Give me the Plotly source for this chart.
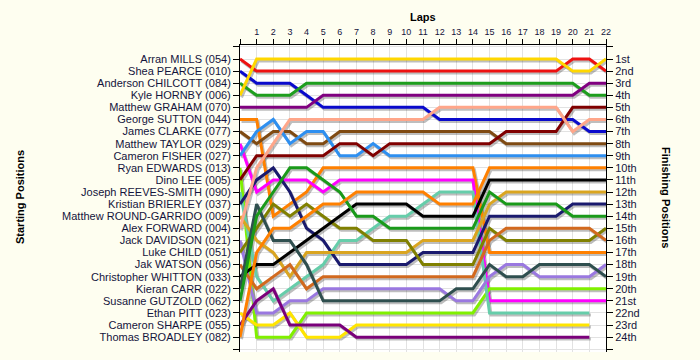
import plotly.graph_objects as go

laps = list(range(0, 23))
lap_labels = [""] + [str(i) for i in range(1, 23)]

names = [
    "Arran MILLS (054)", "Shea PEARCE (010)", "Anderson CHILCOTT (084)", "Kyle HORNBY (006)",
    "Matthew GRAHAM (070)", "George SUTTON (044)", "James CLARKE (077)", "Matthew TAYLOR (029)",
    "Cameron FISHER (027)", "Ryan EDWARDS (013)", "Dino LEE (005)", "Joseph REEVES-SMITH (090)",
    "Kristian BRIERLEY (037)", "Matthew ROUND-GARRIDO (009)", "Alex FORWARD (004)",
    "Jack DAVIDSON (021)", "Luke CHILD (051)", "Jak WATSON (056)", "Christopher WHITTON (033)",
    "Kieran CARR (022)", "Susanne GUTZOLD (062)", "Ethan PITT (023)", "Cameron SHARPE (055)",
    "Thomas BROADLEY (082)",
]

ordinals = ["1st", "2nd", "3rd", "4th", "5th", "6th", "7th", "8th", "9th", "10th", "11th", "12th",
            "13th", "14th", "15th", "16th", "17th", "18th", "19th", "20th", "21st", "22nd", "23rd", "24th"]

# position of each driver on laps 0..22 (None = lapped, did not complete the lap)
p_mills     = [1, 2,2,2,2,2, 2,2,2,2,2, 2,2,2,2,2, 2,2,2,2,1, 1,2]
p_pearce    = [2, 3,3,3,4,5, 5,5,5,5,5, 5,6,6,6,6, 6,6,6,6,6, 7,7]
p_chilcott  = [3, 4,4,4,3,3, 3,3,3,3,3, 3,3,3,3,3, 3,3,3,3,3, 4,4]
p_hornby    = [4, 1,1,1,1,1, 1,1,1,1,1, 1,1,1,1,1, 1,1,1,1,2, 2,1]
p_graham    = [5, 5,5,5,5,4, 4,4,4,4,4, 4,4,4,4,4, 4,4,4,4,4, 3,3]
p_sutton    = [6, 6,14,13,12,10, 10,10,10,10,10, 10,10,10,10,17, 17,17,17,17,17, 17,17]
p_clarke    = [7, 8,7,7,8,8, 7,7,7,7,7, 7,7,7,7,7, 8,8,8,8,8, 8,8]
p_taylor    = [8, 12,11,11,11,12, 11,11,11,11,11, 11,11,11,11,21, 21,21,21,21,21, 21,21]
p_fisher    = [9, 7,6,8,7,7, 9,9,8,9,9, 9,9,9,9,9, 9,9,9,9,9, 9,9]
p_edwards   = [10, 24,24,24,22,22, 22,22,22,22,22, 22,22,22,22,20, 20,20,20,20,20, 20,20]
p_lee       = [11, 9,9,9,9,9, 8,8,9,8,8, 8,8,8,8,8, 7,7,7,7,5, 5,5]
p_reeves    = [12, 19,21,20,19,18, 16,16,15,14,14, 13,12,12,12,22, 22,22,22,22,22, 22,None]
p_brierley  = [13, 11,10,12,15,16, 18,18,18,18,18, 17,17,17,17,14, 14,14,14,14,13, 13,13]
p_round     = [14, 16,17,19,17,17, 17,17,17,17,17, 16,16,16,16,13, 12,12,12,12,12, 12,12]
p_forward   = [15, 10,8,6,6,6, 6,6,6,6,6, 6,5,5,5,5, 5,5,5,5,7, 6,6]
p_davidson  = [16, 22,22,21,21,20, 20,20,20,20,20, 20,20,21,21,19, 18,18,19,19,19, 19,18]
p_child     = [17, 15,13,14,13,14, 15,15,16,16,16, 18,18,18,18,15, 16,16,16,16,16, 16,15]
p_watson    = [18, 20,19,18,20,19, 19,19,19,19,19, 19,19,19,19,16, 15,15,15,15,15, 15,16]
p_whitton   = [19, 18,18,17,16,15, 14,13,13,13,13, 14,14,14,14,11, 11,11,11,11,11, 11,11]
p_carr      = [20, 13,16,16,18,21, 21,21,21,21,21, 21,21,20,20,18, 19,19,18,18,18, 18,19]
p_gutzold   = [21, 14,12,10,10,11, 12,14,14,15,15, 15,15,15,15,12, 13,13,13,13,14, 14,14]
p_pitt      = [22, 23,23,22,24,24, 24,23,23,23,23, 23,23,23,23,23, 23,23,23,23,23, 23,None]
p_sharpe    = [23, 21,20,23,23,23, 23,24,24,24,24, 24,24,24,24,24, 24,24,24,24,24, 24,None]
p_broadley  = [24, 17,15,15,14,13, 13,12,12,12,12, 12,13,13,13,10, 10,10,10,10,10, 10,10]

positions = [p_mills, p_pearce, p_chilcott, p_hornby, p_graham, p_sutton, p_clarke, p_taylor,
             p_fisher, p_edwards, p_lee, p_reeves, p_brierley, p_round, p_forward, p_davidson,
             p_child, p_watson, p_whitton, p_carr, p_gutzold, p_pitt, p_sharpe, p_broadley]

colors = ["#EE1111", "#0A0ACC", "#1E9E1E", "#FFD700", "#800080", "#FF8000", "#7F4A12", "#FF00FF",
          "#2E8FF0", "#80F000", "#800000", "#66CDAA", "#1A1A6E", "#DAA520", "#FFA68A", "#9A78E0",
          "#808000", "#D2691E", "#000000", "#2F4F4F", "#1A9A1A", "#FFE500", "#7A007A", "#FF8000"]

for p in positions:
    assert len(p) == 23

fig = go.Figure()

# drop shadows (same data, drawn on a slightly shifted hidden axis pair)
for p in positions:
    fig.add_trace(go.Scatter(x=laps, y=p, xaxis="x", yaxis="y", mode="lines",
                             line=dict(color="rgba(70,70,70,0.35)", width=3),
                             hoverinfo="skip", showlegend=False))

for nm, p, c in zip(names, positions, colors):
    fig.add_trace(go.Scatter(x=laps, y=p, xaxis="x2", yaxis="y2", mode="lines", name=nm,
                             line=dict(color=c, width=3), hoverinfo="skip", showlegend=False))

# anchor trace for the right-hand axis
fig.add_trace(go.Scatter(x=[laps[-1]], y=[1], xaxis="x2", yaxis="y3", mode="markers",
                         marker=dict(opacity=0), hoverinfo="skip", showlegend=False))

tick_font = dict(family="Liberation Sans, Arial, sans-serif", size=11, color="#14143C")
grid_c = "#E2E2E2"
yr = [25.23, -0.158]

fig.update_layout(
    width=700, height=360,
    margin=dict(l=240, r=94, t=45, b=8),
    paper_bgcolor="#FEFEF0",
    plot_bgcolor="#FFFFFF",
    showlegend=False,
    hovermode=False,
    xaxis=dict(range=[-0.09, 21.91], visible=False, fixedrange=True),
    yaxis=dict(range=[yr[0] - 0.165, yr[1] - 0.165], visible=False, fixedrange=True),
    xaxis2=dict(overlaying="x", anchor="y2", side="top", range=[0, 22], fixedrange=True,
                tickvals=laps, ticktext=lap_labels, tickfont=dict(family=tick_font["family"], size=9, color="#14143C"),
                showgrid=True, gridcolor=grid_c, gridwidth=1, zeroline=False,
                showline=True, linecolor="black", linewidth=1,
                ticks="outside", ticklen=5, tickcolor="black"),
    yaxis2=dict(overlaying="y", anchor="x2", side="left", range=yr, fixedrange=True,
                tickvals=list(range(0, 26)), ticktext=[""] + names + [""], tickfont=tick_font,
                showgrid=True, gridcolor=grid_c, gridwidth=1, zeroline=False,
                showline=True, linecolor="black", linewidth=1,
                ticks="outside", ticklen=6, tickcolor="black"),
    yaxis3=dict(overlaying="y", anchor="x2", side="right", range=yr, fixedrange=True,
                tickvals=list(range(0, 26)), ticktext=[""] + ordinals + [""], tickfont=tick_font,
                showgrid=False, zeroline=False,
                showline=True, linecolor="black", linewidth=1,
                ticks="outside", ticklen=6, tickcolor="black"),
    annotations=[
        dict(text="<b>Laps</b>", xref="paper", yref="paper", x=0.5, y=1, xanchor="center",
             yanchor="bottom", yshift=20, showarrow=False,
             font=dict(family="Liberation Sans, Arial", size=11, color="black")),
        dict(text="<b>Starting Positions</b>", xref="paper", yref="paper", x=-0.601, y=0.505,
             xanchor="center", yanchor="middle", textangle=-90, showarrow=False,
             font=dict(family="Liberation Sans, Arial", size=11, color="black")),
        dict(text="<b>Finishing Positions</b>", xref="paper", yref="paper", x=1.164, y=0.505,
             xanchor="center", yanchor="middle", textangle=90, showarrow=False,
             font=dict(family="Liberation Sans, Arial", size=11, color="black")),
    ],
)

fig.write_html("out.html", config={"displayModeBar": False, "staticPlot": True},
               post_script="document.body.style.margin='0';document.body.style.background='#FEFEF0';")
